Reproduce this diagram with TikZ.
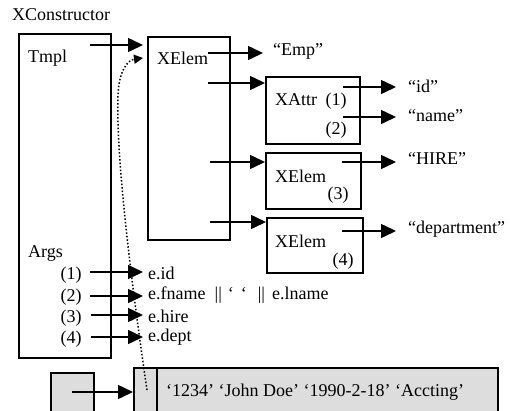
\documentclass[tikz,border=0pt]{standalone}
\usepackage{fontspec}
\setmainfont{Liberation Serif}
\usetikzlibrary{arrows.meta}
\definecolor{boxgray}{RGB}{221,221,221}
\begin{document}
\begin{tikzpicture}[x=1pt,y=-1pt, font=\fontsize{18}{21}\selectfont,
  box/.style={draw, line width=1.5pt, inner sep=0pt, anchor=north west},
  gbox/.style={box, fill=boxgray},
  arr/.style={line width=1.5pt, -{Triangle[length=15pt,width=14pt]}},
  darr/.style={line width=1.5pt, dotted, -{Triangle[length=9pt,width=9pt]}},
  txt/.style={anchor=west, inner sep=0pt},
  num/.style={anchor=center, inner sep=0pt}]
\useasboundingbox (0,0) rectangle (510,410);

% boxes
\node[box, minimum width=92pt, minimum height=324pt] (cons) at (18,33) {};
\node[box, minimum width=82pt, minimum height=203pt] (elem) at (147,36) {};
\node[box, minimum width=94pt, minimum height=67pt] (xattr) at (265,76) {};
\node[box, minimum width=95pt, minimum height=56pt] (el3) at (265,152) {};
\node[box, minimum width=96pt, minimum height=55pt] (el4) at (266,217) {};
\node[gbox, minimum width=43pt, minimum height=45pt] (ptr) at (50,372) {};
\node[gbox, minimum width=364pt, minimum height=50pt] (row) at (133,367) {};
\coordinate (div) at (157,367);
\draw[line width=1.5pt] (div) -- (div |- row.south);

% texts
\node[txt] (title) at (12,15) {XConstructor};
\node[txt] (tmpl) at (28,58) {Tmpl};
\node[txt] (args) at (28,253) {Args};
\node[num] (a1) at (71,275) {(1)};
\node[num] (a2) at (71,297) {(2)};
\node[num] (a3) at (71,318) {(3)};
\node[num] (a4) at (71,339) {(4)};
\node[txt] (xe) at (157,58) {XElem};
\node[txt] (emp) at (273,51) {“Emp”};
\node[txt] (xa) at (275,100) {XAttr};
\node[num] (x1) at (336,101) {(1)};
\node[num] (x2) at (336,130) {(2)};
\node[txt] (id) at (408,86) {“id”};
\node[txt] (name) at (408,116) {“name”};
\node[txt] (xe3) at (275,176) {XElem};
\node[num] (n3) at (338,195) {(3)};
\node[txt] (hire) at (408,158) {“HIRE”};
\node[txt] (xe4) at (275,241) {XElem};
\node[num] (n4) at (343,261) {(4)};
\node[txt] (dept) at (408,229) {“department”};
\node[txt] (eid) at (148,273) {e.id};
\node[txt] (efn) at (148,295) {e.fname\hspace{9pt}||\hspace{6pt}‘\hspace{7pt}‘\hspace{11pt}||\hspace{7pt}e.lname};
\node[txt] (ehire) at (148,316) {e.hire};
\node[txt] (edept) at (148,337) {e.dept};
\node[txt] (vals) at (166,392) {‘1234’ ‘John Doe’ ‘1990-2-18’ ‘Accting’};

% start points of connectors
\coordinate (s0) at (90,45);
\coordinate (s1) at (208,53);
\coordinate (s2) at (208,83);
\coordinate (s3) at (210,162);
\coordinate (s4) at (210,222);
\coordinate (sid) at (343,87);
\coordinate (snm) at (343,117);
\coordinate (sh) at (342,162);
\coordinate (sd) at (342,231);
\coordinate (r1) at (90,272);
\coordinate (r2) at (90,296);
\coordinate (r3) at (91,315);
\coordinate (r4) at (91,337);
\coordinate (sp) at (72,392);
\coordinate (dotstart) at (147,390);
\coordinate (dotend) at (143,58);

% connectors
\draw[arr] (s0) -- ([xshift=-4pt]s0 -| elem.west);
\draw[arr] (s1) -- ([xshift=-10pt]s1 -| emp.west);
\draw[arr] (s2) -- (s2 -| xattr.west);
\draw[arr] (s3) -- (s3 -| el3.west);
\draw[arr] (s4) -- (s4 -| el4.west);
\draw[arr] (sid) -- ([xshift=-12pt]sid -| id.west);
\draw[arr] (snm) -- ([xshift=-12pt]snm -| name.west);
\draw[arr] (sh) -- ([xshift=-12pt]sh -| hire.west);
\draw[arr] (sd) -- ([xshift=-12pt]sd -| dept.west);
\draw[arr] (r1) -- ([xshift=-5pt]r1 -| eid.west);
\draw[arr] (r2) -- ([xshift=-5pt]r2 -| efn.west);
\draw[arr] (r3) -- ([xshift=-5pt]r3 -| ehire.west);
\draw[arr] (r4) -- ([xshift=-5pt]r4 -| edept.west);
\draw[arr] (sp) -- (sp -| row.west);
\draw[darr] (dotstart) .. controls (128,260) and (116,150) .. (118,95)
  .. controls (119,70) and (128,60) .. (dotend);
\end{tikzpicture}
\end{document}
